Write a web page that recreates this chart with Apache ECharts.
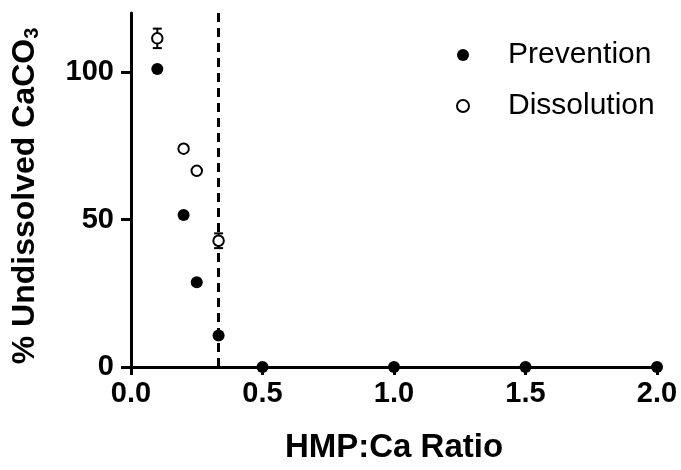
<!DOCTYPE html>
<html><head><meta charset="utf-8">
<script src="https://cdn.jsdelivr.net/npm/echarts@6/dist/echarts.min.js"></script>
<style>html,body{margin:0;padding:0;background:#fff}#c{width:681px;height:470px}</style>
</head><body><div id="c"></div>
<script>
const ratios = [0.1, 0.2, 0.25, 0.333, 0.5, 1.0, 1.5, 2.0];
const prevention = [101, 51.5, 28.7, 10.7, 0, 0, 0, 0];
const dissRatios = [0.1, 0.2, 0.25, 0.333];
const dissolution = [111.4, 74.0, 66.5, 42.8];
const dissolutionErr = [3.3, 0, 0, 2.5];
const xTicks = [0, 0.5, 1.0, 1.5, 2.0];
const yTicks = [0, 50, 100];
const cutoff = 0.333;

const FONT = "'Liberation Sans', Arial, sans-serif";
const chart = echarts.init(document.getElementById('c'), null, {renderer: 'canvas'});
chart.setOption({
  animation: false,
  backgroundColor: '#fff',
  grid: {left: 131, right: 24, top: 13, bottom: 103, containLabel: false},
  legend: {
    left: 451, top: 35, orient: 'vertical', itemGap: 21,
    itemWidth: 12, itemHeight: 12,
    textStyle: {fontFamily: FONT, fontSize: 30, color: '#000', padding: [0, 0, 0, 34], lineHeight: 30},
    data: [{name: 'Prevention', icon: 'circle'}, {name: 'Dissolution', icon: 'circle'}]
  },
  xAxis: {
    type: 'value', min: 0, max: 2, interval: 0.5,
    name: 'HMP:Ca Ratio', nameLocation: 'middle', nameGap: 64,
    nameTextStyle: {fontFamily: FONT, fontSize: 33, fontWeight: 'bold', color: '#000'},
    axisLine: {show: true, onZero: false, lineStyle: {color: '#000', width: 3}},
    axisTick: {show: true, length: 8, lineStyle: {color: '#000', width: 3}, customValues: xTicks},
    axisLabel: {fontFamily: FONT, fontSize: 29, fontWeight: 'bold', color: '#000', margin: 12,
      customValues: xTicks, formatter: v => v.toFixed(1)},
    splitLine: {show: false}
  },
  yAxis: {
    type: 'value', min: 0, max: 120, interval: 50,
    name: '{t|% Undissolved CaCO}{s|3}', nameLocation: 'middle', nameGap: 89, nameRotate: 90,
    nameTextStyle: {fontFamily: FONT, fontSize: 32, fontWeight: 'bold', color: '#000', padding: [0, 12, 0, 0],
      rich: {t: {fontFamily: FONT, fontSize: 32, fontWeight: 'bold', color: '#000'},
             s: {fontFamily: FONT, fontSize: 20, fontWeight: 'bold', color: '#000', padding: [14, 0, 0, 0]}}},
    axisLine: {show: true, onZero: false, lineStyle: {color: '#000', width: 3}},
    axisTick: {show: true, length: 10, lineStyle: {color: '#000', width: 3}, customValues: yTicks},
    axisLabel: {fontFamily: FONT, fontSize: 29, fontWeight: 'bold', color: '#000', margin: 17,
      customValues: yTicks},
    splitLine: {show: false}
  },
  series: [
    {
      name: 'Prevention', type: 'scatter', symbol: 'circle', symbolSize: 12, z: 5,
      itemStyle: {color: '#000', opacity: 1},
      data: ratios.map((x, i) => [x, prevention[i]]),
      markLine: {
        silent: true, symbol: 'none', label: {show: false},
        lineStyle: {color: '#000', width: 3, type: [9, 6], opacity: 1},
        data: [{xAxis: cutoff}]
      }
    },
    {
      name: 'Dissolution', type: 'scatter', symbol: 'circle', symbolSize: 10.5, z: 6,
      itemStyle: {color: '#fff', borderColor: '#000', borderWidth: 2, opacity: 1},
      data: dissRatios.map((x, i) => [x, dissolution[i]])
    },
    {
      name: 'err', type: 'custom', z: 4,
      data: dissRatios.map((x, i) => [x, dissolution[i], dissolutionErr[i]]),
      renderItem: function (params, api) {
        const x = api.value(0), y = api.value(1), e = api.value(2);
        if (!e) return null;
        const top = api.coord([x, y + e]);
        const bot = api.coord([x, y - e]);
        const w = 4.5;
        const st = {stroke: '#000', lineWidth: 2};
        return {type: 'group', children: [
          {type: 'line', shape: {x1: top[0], y1: top[1], x2: bot[0], y2: bot[1]}, style: st},
          {type: 'line', shape: {x1: top[0] - w, y1: top[1], x2: top[0] + w, y2: top[1]}, style: st},
          {type: 'line', shape: {x1: bot[0] - w, y1: bot[1], x2: bot[0] + w, y2: bot[1]}, style: st}
        ]};
      }
    }
  ]
});
</script></body></html>
